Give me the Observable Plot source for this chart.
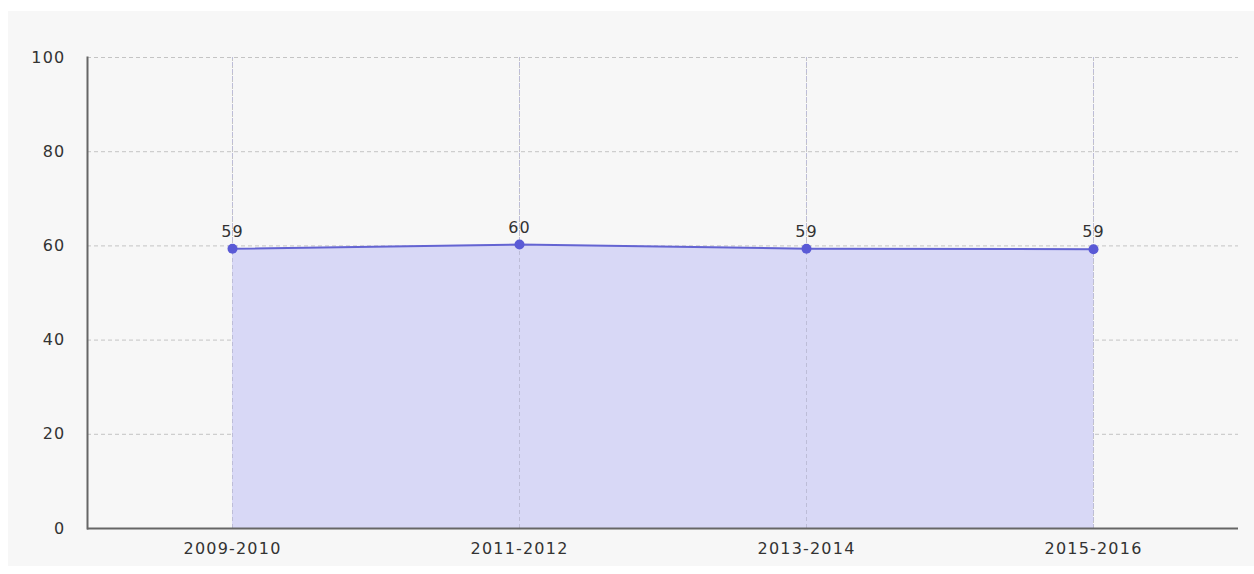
<!DOCTYPE html>
<html>
<head>
<meta charset="utf-8">
<script src="https://cdn.jsdelivr.net/npm/d3@7"></script>
<script src="https://cdn.jsdelivr.net/npm/@observablehq/plot@0.6"></script>
<style>
  html, body { margin: 0; padding: 0; background: #ffffff; }
  #chart { position: absolute; left: 8px; top: 11px; width: 1246px; height: 555px; background: #f7f7f7; }
  #chart svg { background: #f7f7f7; display: block; }
  #chart svg text { letter-spacing: 1.2px; }
</style>
</head>
<body>
<div id="chart"></div>
<script>
const periods = ["2009-2010", "2011-2012", "2013-2014", "2015-2016"];
const values = [59.4, 60.3, 59.4, 59.3];
const labels = ["59", "60", "59", "59"];
const yTicks = [0, 20, 40, 60, 80, 100];

const data = periods.map((p, i) => ({period: p, value: values[i], label: labels[i]}));

const font = "'DejaVu Sans', Verdana, sans-serif";

const chart = Plot.plot({
  width: 1246,
  height: 555,
  marginLeft: 79,
  marginRight: 16,
  marginTop: 46,
  marginBottom: 38,
  style: {background: "#f7f7f7", fontFamily: font, fontSize: "16px", color: "#333"},
  x: {type: "point", domain: periods, padding: 0.5, label: null},
  y: {domain: [0, 100], ticks: yTicks, label: null},
  marks: [
    Plot.ruleY(yTicks, {stroke: "#c4c4c4", strokeDasharray: "4,3", strokeWidth: 1}),
    Plot.ruleX(periods, {stroke: "#c4c4c4", strokeDasharray: "4,3", strokeWidth: 1}),
    Plot.areaY(data, {x: "period", y: "value", fill: "#d8d8f6", fillOpacity: 1}),
    Plot.ruleX(periods, {y1: 0, y2: 100, stroke: "#bdbdd8", strokeDasharray: "4,3", strokeWidth: 1}),
    Plot.lineY(data, {x: "period", y: "value", stroke: "#6464d2", strokeWidth: 2}),
    Plot.dot(data, {x: "period", y: "value", r: 5, fill: "#5a5ad6", stroke: "none"}),
    Plot.text(data, {x: "period", y: "value", text: "label", dy: -17, fill: "#333", fontSize: 16}),
    Plot.ruleY([0], {stroke: "#666", strokeWidth: 2}),
    Plot.frame({anchor: "left", stroke: "#666", strokeWidth: 2}),
    Plot.axisY({ticks: yTicks, tickSize: 0, tickPadding: 22, fill: "#333", fontSize: 16, label: null}),
    Plot.axisX({tickSize: 0, tickPadding: 14, fill: "#333", fontSize: 16, label: null})
  ]
});
document.getElementById("chart").appendChild(chart);
</script>
</body>
</html>
